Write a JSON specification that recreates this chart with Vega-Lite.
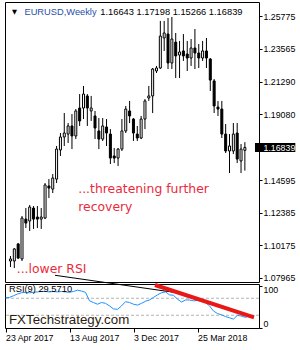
{
  "$schema": "https://vega.github.io/schema/vega-lite/v6.json",
  "background": "white",
  "padding": {"left": 3, "top": 1, "right": 0, "bottom": 0},
  "bounds": "flush",
  "config": {
    "view": {"stroke": "black", "strokeWidth": 1},
    "font": "Liberation Sans",
    "axis": {"labelFont": "Liberation Sans", "labelFontSize": 8.8, "labelColor": "black", "tickColor": "black", "grid": false, "domain": false, "labelOverlap": false}
  },
  "data": {"values": [
    {"date": "2017-04-23", "open": 1.0912, "high": 1.0946, "low": 1.0871, "close": 1.0926, "rsi": 71},
    {"date": "2017-04-30", "open": 1.0912, "high": 1.1000, "low": 1.0864, "close": 1.0994, "rsi": 72},
    {"date": "2017-05-07", "open": 1.1028, "high": 1.1034, "low": 1.0926, "close": 1.0932, "rsi": 76},
    {"date": "2017-05-14", "open": 1.0926, "high": 1.1218, "low": 1.0912, "close": 1.1204, "rsi": 80},
    {"date": "2017-05-21", "open": 1.1197, "high": 1.1272, "low": 1.1136, "close": 1.1170, "rsi": 83},
    {"date": "2017-05-28", "open": 1.1184, "high": 1.1293, "low": 1.1116, "close": 1.1279, "rsi": 84},
    {"date": "2017-06-04", "open": 1.1272, "high": 1.1286, "low": 1.1130, "close": 1.1197, "rsi": 83},
    {"date": "2017-06-11", "open": 1.1211, "high": 1.1286, "low": 1.1136, "close": 1.1197, "rsi": 84},
    {"date": "2017-06-18", "open": 1.1197, "high": 1.1272, "low": 1.1130, "close": 1.1211, "rsi": 85},
    {"date": "2017-06-25", "open": 1.1204, "high": 1.1442, "low": 1.1197, "close": 1.1429, "rsi": 86},
    {"date": "2017-07-02", "open": 1.1422, "high": 1.1469, "low": 1.1340, "close": 1.1408, "rsi": 86},
    {"date": "2017-07-09", "open": 1.1401, "high": 1.1503, "low": 1.1374, "close": 1.1476, "rsi": 85},
    {"date": "2017-07-16", "open": 1.1469, "high": 1.1694, "low": 1.1442, "close": 1.1673, "rsi": 86},
    {"date": "2017-07-23", "open": 1.1667, "high": 1.1782, "low": 1.1626, "close": 1.1755, "rsi": 85},
    {"date": "2017-07-30", "open": 1.1755, "high": 1.1918, "low": 1.1694, "close": 1.1782, "rsi": 86},
    {"date": "2017-08-06", "open": 1.1775, "high": 1.1850, "low": 1.1714, "close": 1.1830, "rsi": 85},
    {"date": "2017-08-13", "open": 1.1830, "high": 1.1911, "low": 1.1673, "close": 1.1762, "rsi": 84},
    {"date": "2017-08-20", "open": 1.1762, "high": 1.1945, "low": 1.1741, "close": 1.1932, "rsi": 86},
    {"date": "2017-08-27", "open": 1.1952, "high": 1.2047, "low": 1.1830, "close": 1.1864, "rsi": 89},
    {"date": "2017-09-03", "open": 1.1952, "high": 1.2102, "low": 1.1877, "close": 1.2047, "rsi": 87},
    {"date": "2017-09-10", "open": 1.2034, "high": 1.2047, "low": 1.1830, "close": 1.1952, "rsi": 84},
    {"date": "2017-09-17", "open": 1.1932, "high": 1.2034, "low": 1.1864, "close": 1.1952, "rsi": 64},
    {"date": "2017-09-24", "open": 1.1898, "high": 1.1932, "low": 1.1741, "close": 1.1816, "rsi": 60},
    {"date": "2017-10-01", "open": 1.1796, "high": 1.1884, "low": 1.1673, "close": 1.1741, "rsi": 56},
    {"date": "2017-10-08", "open": 1.1741, "high": 1.1884, "low": 1.1728, "close": 1.1830, "rsi": 60},
    {"date": "2017-10-15", "open": 1.1823, "high": 1.1877, "low": 1.1694, "close": 1.1782, "rsi": 58},
    {"date": "2017-10-22", "open": 1.1775, "high": 1.1809, "low": 1.1571, "close": 1.1612, "rsi": 52},
    {"date": "2017-10-29", "open": 1.1626, "high": 1.1680, "low": 1.1578, "close": 1.1612, "rsi": 45},
    {"date": "2017-11-05", "open": 1.1612, "high": 1.1680, "low": 1.1558, "close": 1.1673, "rsi": 44},
    {"date": "2017-11-12", "open": 1.1673, "high": 1.1877, "low": 1.1660, "close": 1.1796, "rsi": 52},
    {"date": "2017-11-19", "open": 1.1796, "high": 1.1966, "low": 1.1782, "close": 1.1945, "rsi": 62},
    {"date": "2017-11-26", "open": 1.1932, "high": 1.2000, "low": 1.1850, "close": 1.1898, "rsi": 60},
    {"date": "2017-12-03", "open": 1.1877, "high": 1.1884, "low": 1.1728, "close": 1.1782, "rsi": 56},
    {"date": "2017-12-10", "open": 1.1775, "high": 1.1830, "low": 1.1728, "close": 1.1748, "rsi": 54},
    {"date": "2017-12-17", "open": 1.1748, "high": 1.1898, "low": 1.1741, "close": 1.1877, "rsi": 58},
    {"date": "2017-12-24", "open": 1.1877, "high": 1.2013, "low": 1.1809, "close": 1.2000, "rsi": 63},
    {"date": "2017-12-31", "open": 1.2020, "high": 1.2102, "low": 1.2000, "close": 1.2034, "rsi": 66},
    {"date": "2018-01-07", "open": 1.2034, "high": 1.2224, "low": 1.1918, "close": 1.2217, "rsi": 72},
    {"date": "2018-01-14", "open": 1.2204, "high": 1.2238, "low": 1.2190, "close": 1.2224, "rsi": 78},
    {"date": "2018-01-21", "open": 1.2224, "high": 1.2544, "low": 1.2217, "close": 1.2441, "rsi": 83},
    {"date": "2018-01-28", "open": 1.2428, "high": 1.2544, "low": 1.2340, "close": 1.2462, "rsi": 85},
    {"date": "2018-02-04", "open": 1.2455, "high": 1.2564, "low": 1.2217, "close": 1.2258, "rsi": 78},
    {"date": "2018-02-11", "open": 1.2258, "high": 1.2571, "low": 1.2217, "close": 1.2421, "rsi": 77},
    {"date": "2018-02-18", "open": 1.2400, "high": 1.2462, "low": 1.2156, "close": 1.2306, "rsi": 68},
    {"date": "2018-02-25", "open": 1.2312, "high": 1.2408, "low": 1.2156, "close": 1.2333, "rsi": 61},
    {"date": "2018-03-04", "open": 1.2340, "high": 1.2455, "low": 1.2272, "close": 1.2306, "rsi": 66},
    {"date": "2018-03-11", "open": 1.2319, "high": 1.2408, "low": 1.2204, "close": 1.2292, "rsi": 66},
    {"date": "2018-03-18", "open": 1.2292, "high": 1.2421, "low": 1.2238, "close": 1.2360, "rsi": 64},
    {"date": "2018-03-25", "open": 1.2360, "high": 1.2489, "low": 1.2217, "close": 1.2326, "rsi": 65},
    {"date": "2018-04-01", "open": 1.2326, "high": 1.2387, "low": 1.2224, "close": 1.2292, "rsi": 63},
    {"date": "2018-04-08", "open": 1.2292, "high": 1.2408, "low": 1.2272, "close": 1.2340, "rsi": 60},
    {"date": "2018-04-15", "open": 1.2340, "high": 1.2428, "low": 1.2224, "close": 1.2292, "rsi": 52},
    {"date": "2018-04-22", "open": 1.2285, "high": 1.2292, "low": 1.2068, "close": 1.2142, "rsi": 40},
    {"date": "2018-04-29", "open": 1.2136, "high": 1.2149, "low": 1.1918, "close": 1.1966, "rsi": 34},
    {"date": "2018-05-06", "open": 1.1959, "high": 1.2000, "low": 1.1898, "close": 1.1945, "rsi": 31},
    {"date": "2018-05-13", "open": 1.1945, "high": 1.2000, "low": 1.1748, "close": 1.1775, "rsi": 27},
    {"date": "2018-05-20", "open": 1.1775, "high": 1.1843, "low": 1.1646, "close": 1.1660, "rsi": 24},
    {"date": "2018-05-27", "open": 1.1660, "high": 1.1775, "low": 1.1510, "close": 1.1694, "rsi": 21},
    {"date": "2018-06-03", "open": 1.1660, "high": 1.1850, "low": 1.1639, "close": 1.1775, "rsi": 30},
    {"date": "2018-06-10", "open": 1.1782, "high": 1.1850, "low": 1.1578, "close": 1.1605, "rsi": 28},
    {"date": "2018-06-17", "open": 1.1592, "high": 1.1707, "low": 1.1510, "close": 1.1673, "rsi": 25},
    {"date": "2018-06-24", "open": 1.16643, "high": 1.17198, "low": 1.15266, "close": 1.16839, "rsi": 29.571}
  ]},
  "spacing": 2,
  "resolve": {"scale": {"x": "independent", "y": "independent"}},
  "vconcat": [
    {
      "width": 254,
      "height": 280,
      "layer": [
        {
          "data": {"values": [{}]},
          "mark": {"type": "rect", "color": "black"},
          "encoding": {
            "x": {"datum": {"year": 2018, "month": 7, "date": 12, "hours": 10, "utc": true}, "type": "temporal", "axis": null},
            "x2": {"datum": {"year": 2018, "month": 9, "date": 23, "hours": 21, "utc": true}},
            "y": {"datum": 1.1715, "type": "quantitative",
                  "axis": {"orient": "right", "title": null, "zindex": 1, "values": [1.25775, 1.23565, 1.2129, 1.1908, 1.16839, 1.14595, 1.12385, 1.10175, 1.07965],
                           "format": ".5f", "tickSize": 3, "labelPadding": 1, "labelFlush": false, "labelOverlap": false, "labelFontSize": 8.8, "labelFont": "Liberation Sans",
                           "labelColor": {"condition": {"test": "abs(datum.value - 1.16839) < 0.000001", "value": "white"}, "value": "black"}}},
            "y2": {"datum": 1.1653}
          }
        },
        {
          "mark": {"type": "rule", "color": "black", "strokeWidth": 1},
          "encoding": {
            "x": {"field": "date", "type": "temporal", "axis": null,
                  "scale": {"type": "utc", "domain": [{"year": 2017, "month": 4, "date": 22, "hours": 3, "utc": true}, {"year": 2018, "month": 7, "date": 10, "hours": 15, "utc": true}]}},
            "y": {"field": "low", "type": "quantitative",
                  "scale": {"domain": [1.07693, 1.26727], "nice": false, "zero": false},
                  "axis": {"orient": "right", "title": null, "zindex": 1, "values": [1.25775, 1.23565, 1.2129, 1.1908, 1.16839, 1.14595, 1.12385, 1.10175, 1.07965],
                           "format": ".5f", "tickSize": 3, "labelPadding": 1, "labelFlush": false, "labelOverlap": false, "labelFontSize": 8.8, "labelFont": "Liberation Sans",
                           "labelColor": {"condition": {"test": "abs(datum.value - 1.16839) < 0.000001", "value": "white"}, "value": "black"}}},
            "y2": {"field": "high"}
          }
        },
        {
          "mark": {"type": "bar", "size": 2, "stroke": "black", "strokeWidth": 1},
          "encoding": {
            "x": {"field": "date", "type": "temporal", "axis": null},
            "y": {"field": "open", "type": "quantitative",
                  "axis": {"orient": "right", "title": null, "zindex": 1, "values": [1.25775, 1.23565, 1.2129, 1.1908, 1.16839, 1.14595, 1.12385, 1.10175, 1.07965],
                           "format": ".5f", "tickSize": 3, "labelPadding": 1, "labelFlush": false, "labelOverlap": false, "labelFontSize": 8.8, "labelFont": "Liberation Sans",
                           "labelColor": {"condition": {"test": "abs(datum.value - 1.16839) < 0.000001", "value": "white"}, "value": "black"}}},
            "y2": {"field": "close"},
            "fill": {"condition": {"test": "datum.close >= datum.open", "value": "white"}, "value": "black"}
          }
        },
        {
          "data": {"values": [{}]},
          "mark": {"type": "text", "font": "DejaVu Sans", "fontSize": 6.5, "align": "left", "baseline": "middle", "color": "black"},
          "encoding": {
            "x": {"datum": {"year": 2017, "month": 4, "date": 25, "hours": 15, "utc": true}, "type": "temporal", "axis": null},
            "y": {"datum": 1.2607, "type": "quantitative",
                  "axis": {"orient": "right", "title": null, "zindex": 1, "values": [1.25775, 1.23565, 1.2129, 1.1908, 1.16839, 1.14595, 1.12385, 1.10175, 1.07965],
                           "format": ".5f", "tickSize": 3, "labelPadding": 1, "labelFlush": false, "labelOverlap": false, "labelFontSize": 8.8, "labelFont": "Liberation Sans",
                           "labelColor": {"condition": {"test": "abs(datum.value - 1.16839) < 0.000001", "value": "white"}, "value": "black"}}},
            "text": {"value": "▼"}
          }
        },
        {
          "data": {"values": [{}]},
          "mark": {"type": "text", "font": "Liberation Sans", "fontSize": 9.3, "align": "left", "baseline": "middle", "color": "#1f4fa8"},
          "encoding": {
            "x": {"datum": {"year": 2017, "month": 5, "date": 18, "hours": 10, "utc": true}, "type": "temporal", "axis": null},
            "y": {"datum": 1.2605, "type": "quantitative",
                  "axis": {"orient": "right", "title": null, "zindex": 1, "values": [1.25775, 1.23565, 1.2129, 1.1908, 1.16839, 1.14595, 1.12385, 1.10175, 1.07965],
                           "format": ".5f", "tickSize": 3, "labelPadding": 1, "labelFlush": false, "labelOverlap": false, "labelFontSize": 8.8, "labelFont": "Liberation Sans",
                           "labelColor": {"condition": {"test": "abs(datum.value - 1.16839) < 0.000001", "value": "white"}, "value": "black"}}},
            "text": {"value": "EURUSD,Weekly"}
          }
        },
        {
          "data": {"values": [{}]},
          "mark": {"type": "text", "font": "Liberation Sans", "fontSize": 9.3, "align": "left", "baseline": "middle", "color": "black"},
          "encoding": {
            "x": {"datum": {"year": 2017, "month": 10, "date": 3, "hours": 15, "utc": true}, "type": "temporal", "axis": null},
            "y": {"datum": 1.2605, "type": "quantitative",
                  "axis": {"orient": "right", "title": null, "zindex": 1, "values": [1.25775, 1.23565, 1.2129, 1.1908, 1.16839, 1.14595, 1.12385, 1.10175, 1.07965],
                           "format": ".5f", "tickSize": 3, "labelPadding": 1, "labelFlush": false, "labelOverlap": false, "labelFontSize": 8.8, "labelFont": "Liberation Sans",
                           "labelColor": {"condition": {"test": "abs(datum.value - 1.16839) < 0.000001", "value": "white"}, "value": "black"}}},
            "text": {"value": "1.16643 1.17198 1.15266 1.16839"}
          }
        },
        {
          "data": {"values": [{}]},
          "mark": {"type": "text", "font": "DejaVu Sans", "fontSize": 12.4, "align": "left", "baseline": "alphabetic", "color": "#ea2a3c"},
          "encoding": {
            "x": {"datum": {"year": 2017, "month": 8, "date": 24, "hours": 9, "utc": true}, "type": "temporal", "axis": null},
            "y": {"datum": 1.13743, "type": "quantitative",
                  "axis": {"orient": "right", "title": null, "zindex": 1, "values": [1.25775, 1.23565, 1.2129, 1.1908, 1.16839, 1.14595, 1.12385, 1.10175, 1.07965],
                           "format": ".5f", "tickSize": 3, "labelPadding": 1, "labelFlush": false, "labelOverlap": false, "labelFontSize": 8.8, "labelFont": "Liberation Sans",
                           "labelColor": {"condition": {"test": "abs(datum.value - 1.16839) < 0.000001", "value": "white"}, "value": "black"}}},
            "text": {"value": "...threatening further"}
          }
        },
        {
          "data": {"values": [{}]},
          "mark": {"type": "text", "font": "DejaVu Sans", "fontSize": 12.4, "align": "left", "baseline": "alphabetic", "color": "#ea2a3c"},
          "encoding": {
            "x": {"datum": {"year": 2017, "month": 8, "date": 24, "hours": 9, "utc": true}, "type": "temporal", "axis": null},
            "y": {"datum": 1.12553, "type": "quantitative",
                  "axis": {"orient": "right", "title": null, "zindex": 1, "values": [1.25775, 1.23565, 1.2129, 1.1908, 1.16839, 1.14595, 1.12385, 1.10175, 1.07965],
                           "format": ".5f", "tickSize": 3, "labelPadding": 1, "labelFlush": false, "labelOverlap": false, "labelFontSize": 8.8, "labelFont": "Liberation Sans",
                           "labelColor": {"condition": {"test": "abs(datum.value - 1.16839) < 0.000001", "value": "white"}, "value": "black"}}},
            "text": {"value": "recovery"}
          }
        },
        {
          "data": {"values": [{}]},
          "mark": {"type": "text", "font": "DejaVu Sans", "fontSize": 12.4, "align": "left", "baseline": "alphabetic", "color": "#ea2a3c"},
          "encoding": {
            "x": {"datum": {"year": 2017, "month": 5, "date": 4, "hours": 9, "utc": true}, "type": "temporal", "axis": null},
            "y": {"datum": 1.08338, "type": "quantitative",
                  "axis": {"orient": "right", "title": null, "zindex": 1, "values": [1.25775, 1.23565, 1.2129, 1.1908, 1.16839, 1.14595, 1.12385, 1.10175, 1.07965],
                           "format": ".5f", "tickSize": 3, "labelPadding": 1, "labelFlush": false, "labelOverlap": false, "labelFontSize": 8.8, "labelFont": "Liberation Sans",
                           "labelColor": {"condition": {"test": "abs(datum.value - 1.16839) < 0.000001", "value": "white"}, "value": "black"}}},
            "text": {"value": "...lower RSI"}
          }
        }
      ]
    },
    {
      "width": 254,
      "height": 44,
      "layer": [
        {
          "data": {"values": [{}]},
          "mark": {"type": "rule", "color": "#b4b4b4", "strokeDash": [3, 2], "strokeWidth": 1},
          "encoding": {"y": {"datum": 70, "type": "quantitative",
                  "axis": {"title": null, "orient": "right", "values": [0, 30, 70, 100], "tickSize": 3, "labelPadding": 1, "labelFlush": 3, "labelOverlap": false, "labelFontSize": 8.8, "labelFont": "Liberation Sans"}}}
        },
        {
          "data": {"values": [{}]},
          "mark": {"type": "rule", "color": "#b4b4b4", "strokeDash": [3, 2], "strokeWidth": 1},
          "encoding": {"y": {"datum": 30, "type": "quantitative",
                  "axis": {"title": null, "orient": "right", "values": [0, 30, 70, 100], "tickSize": 3, "labelPadding": 1, "labelFlush": 3, "labelOverlap": false, "labelFontSize": 8.8, "labelFont": "Liberation Sans"}}}
        },
        {
          "mark": {"type": "line", "color": "#1e90ff", "strokeWidth": 1},
          "encoding": {
            "x": {"field": "date", "type": "temporal",
                  "scale": {"type": "utc", "domain": [{"year": 2017, "month": 4, "date": 22, "hours": 3, "utc": true}, {"year": 2018, "month": 7, "date": 10, "hours": 15, "utc": true}]},
                  "axis": {"title": null, "orient": "bottom", "format": "%-d %b %Y", "labelAlign": "left", "labelFlush": false, "labelOverlap": false, "labelBound": false,
                           "tickSize": 4, "labelPadding": 1, "labelFontSize": 8.8, "labelFont": "Liberation Sans",
                           "values": [{"year": 2017, "month": 4, "date": 23, "utc": true}, {"year": 2017, "month": 8, "date": 13, "utc": true}, {"year": 2017, "month": 12, "date": 3, "utc": true}, {"year": 2018, "month": 3, "date": 25, "utc": true}]}},
            "y": {"field": "rsi", "type": "quantitative",
                  "scale": {"domain": [0, 103.6], "nice": false, "zero": false},
                  "axis": {"title": null, "orient": "right", "values": [0, 30, 70, 100], "tickSize": 3, "labelPadding": 1, "labelFlush": 3, "labelOverlap": false, "labelFontSize": 8.8, "labelFont": "Liberation Sans"}}
          }
        },
        {
          "data": {"values": [{}]},
          "mark": {"type": "rule", "color": "black", "strokeWidth": 1},
          "encoding": {
            "x": {"datum": {"year": 2017, "month": 7, "date": 18, "hours": 15, "utc": true}, "type": "temporal", "axis": {"orient": "bottom", "title": null}},
            "x2": {"datum": {"year": 2018, "month": 2, "date": 25, "hours": 21, "utc": true}},
            "y": {"datum": 124.1, "type": "quantitative", "axis": {"orient": "right", "title": null}},
            "y2": {"datum": 81.3}
          }
        },
        {
          "data": {"values": [{}]},
          "mark": {"type": "rule", "color": "#e81818", "strokeWidth": 4},
          "encoding": {
            "x": {"datum": {"year": 2018, "month": 1, "date": 9, "hours": 15, "utc": true}, "type": "temporal", "axis": {"orient": "bottom", "title": null}},
            "x2": {"datum": {"year": 2018, "month": 7, "date": 1, "hours": 21, "utc": true}},
            "y": {"datum": 101.3, "type": "quantitative", "axis": {"orient": "right", "title": null}},
            "y2": {"datum": 24.8}
          }
        },
        {
          "data": {"values": [{}]},
          "mark": {"type": "text", "font": "Liberation Sans", "fontSize": 9.3, "align": "left", "baseline": "middle", "color": "black"},
          "encoding": {
            "x": {"datum": {"year": 2017, "month": 4, "date": 29, "hours": 3, "utc": true}, "type": "temporal", "axis": {"orient": "bottom", "title": null}},
            "y": {"datum": 91.9, "type": "quantitative", "axis": {"orient": "right", "title": null}},
            "text": {"value": "RSI(9) 29.5710"}
          }
        },
        {
          "data": {"values": [{}]},
          "mark": {"type": "text", "font": "Liberation Sans", "fontSize": 13.3, "align": "left", "baseline": "alphabetic", "color": "#2b2010"},
          "encoding": {
            "x": {"datum": {"year": 2017, "month": 4, "date": 29, "hours": 3, "utc": true}, "type": "temporal", "axis": {"orient": "bottom", "title": null}},
            "y": {"datum": 8.8, "type": "quantitative", "axis": {"orient": "right", "title": null}},
            "text": {"value": "FXTechstrategy.com"}
          }
        }
      ]
    }
  ]
}
